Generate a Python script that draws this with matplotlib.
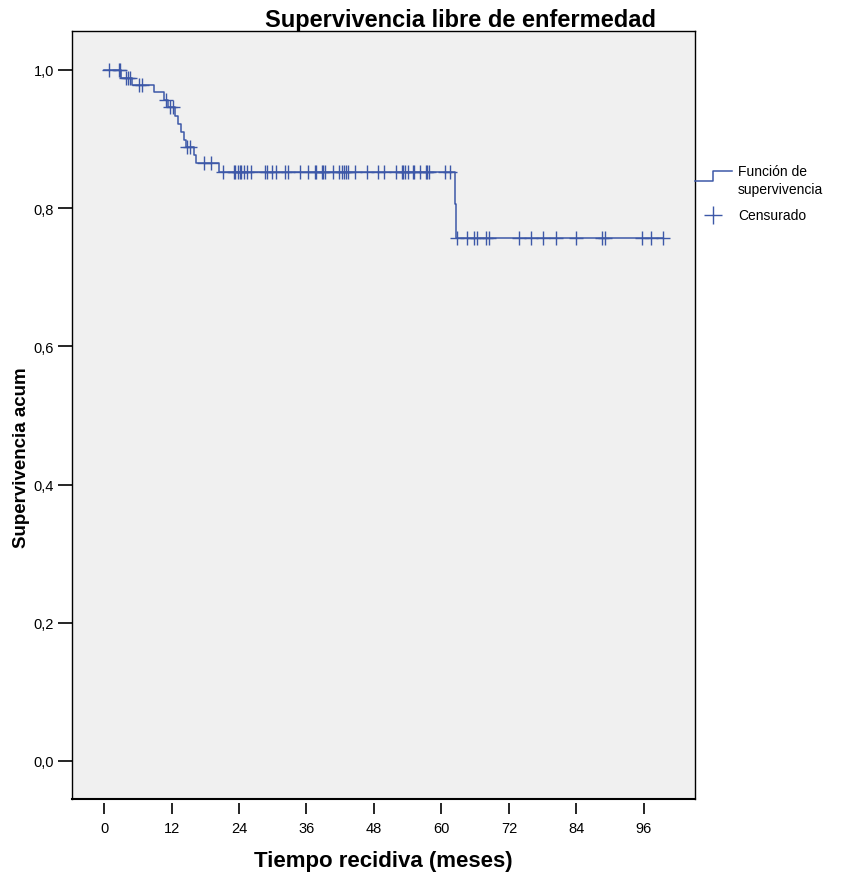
import numpy as np
import matplotlib
matplotlib.use("Agg")
import matplotlib.pyplot as plt
from matplotlib.lines import Line2D
from matplotlib.ticker import FuncFormatter

plt.rcParams['font.family'] = ['Liberation Sans', 'DejaVu Sans']

# ---- data ----
step_times = [0, 3.1, 4.9, 8.9, 10.6, 11.4, 12.6, 13.2, 13.7, 14.2, 14.6, 16.0, 16.3, 20.5, 62.4, 62.6]
step_surv = [1.0, 0.989, 0.978, 0.968, 0.957, 0.946, 0.934, 0.922, 0.910, 0.899, 0.889, 0.877, 0.865,
             0.853, 0.806, 0.757]
censor_times = [0.9, 2.6, 2.9, 3.9, 4.3, 4.6, 6.2, 6.7, 11.1, 11.7, 12.3, 14.8, 15.2, 17.7, 19.1,
                21.2, 23.1, 23.3, 23.9, 24.1, 24.3, 24.9, 25.5, 26.1, 28.6, 29.0, 29.8, 30.6, 32.2,
                32.8, 34.8, 36.2, 37.5, 37.7, 38.7, 39.0, 39.3,
                40.8, 41.7, 42.4, 42.7, 43.0, 43.3, 44.6, 46.8, 48.8, 49.7, 51.9, 52.9, 53.2, 53.5,
                54.0, 54.9, 55.1, 56.2, 57.2, 57.5, 57.8, 60.6, 61.5,
                62.7, 64.5, 65.8, 66.4, 68.0, 68.5, 73.7, 76.0, 78.1, 80.3, 84.0, 88.6, 89.0, 95.6,
                97.2, 99.4]
x_ticks = [0, 12, 24, 36, 48, 60, 72, 84, 96]
y_ticks = [0.0, 0.2, 0.4, 0.6, 0.8, 1.0]

title = "Supervivencia libre de enfermedad"
xlabel = "Tiempo recidiva (meses)"
ylabel = "Supervivencia acum"
legend_labels = ["Función de\nsupervivencia", "Censurado"]

color = '#3d58a8'

W, H = 842, 879
fig = plt.figure(figsize=(W / 100, H / 100), dpi=100)
fig.patch.set_facecolor('white')
ax = fig.add_axes([72 / W, 1 - 800 / H, (695 - 72) / W, (800 - 32) / H])
ax.set_facecolor('#f0f0f0')

st = np.array(step_times)
ss = np.array(step_surv)
ct = np.array(censor_times)
t_end = ct.max()
tx = np.append(st, t_end)
sy = np.append(ss, ss[-1])
ax.step(tx, sy, where='post', color=color, lw=1.1, zorder=3)
idx = np.searchsorted(st, ct, side='right') - 1
ax.plot(ct, ss[idx], linestyle='none', marker='+', color=color, ms=10, mew=1.0, zorder=4)

ax.set_xlim(-5.69, 105.07)
ax.set_ylim(-0.055, 1.0564)
ax.set_xticks(x_ticks)
ax.set_yticks(y_ticks)
ax.yaxis.set_major_formatter(FuncFormatter(lambda v, p: f"{v:.1f}".replace('.', ',')))

for s in ['top', 'left', 'right']:
    ax.spines[s].set_color('black')
    ax.spines[s].set_linewidth(1.0)
ax.spines['bottom'].set_position(('outward', 3))
ax.spines['bottom'].set_visible(False)
ax.plot([0, 1], [0, 0], transform=ax.transAxes, color='black', lw=1.5, clip_on=False, zorder=5)

ax.tick_params(axis='x', direction='out', length=8, width=1.2, pad=5, labelsize=10.5, colors='black')
ax.tick_params(axis='y', direction='out', length=10, width=1.2, pad=3, labelsize=10.5, colors='black')

fig.text(460 / W, 1 - 20 / H, title, ha='center', va='center', fontsize=17, fontweight='bold')
fig.text(383 / W, 1 - 862 / H, xlabel, ha='center', va='center', fontsize=16, fontweight='bold')
fig.text(22 / W, 1 - 458 / H, ylabel, ha='center', va='center', rotation=90, fontsize=13.5,
         fontweight='bold')

# legend (drawn in figure pixels)
def fx(px):
    return px / W

def fy(py):
    return 1 - py / H

fig.add_artist(Line2D([fx(695), fx(713), fx(713), fx(732)], [fy(182), fy(182), fy(172), fy(172)],
                      color=color, lw=1.1))
fig.add_artist(Line2D([fx(713)], [fy(216)], marker='+', ms=13, mew=1.0, color=color,
                      linestyle='none'))
fig.text(fx(738), fy(181), legend_labels[0], ha='left', va='center', fontsize=10, linespacing=1.45)
fig.text(fx(738), fy(216), legend_labels[1], ha='left', va='center', fontsize=10)

fig.savefig('out.png', dpi=100)
